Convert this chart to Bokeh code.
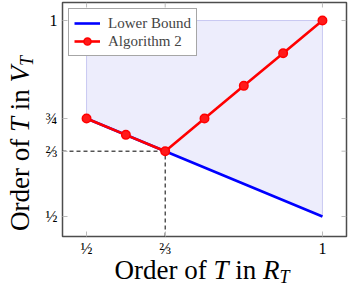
from bokeh.plotting import figure
from bokeh.models import LinearAxis, FixedTicker, Range1d, Legend, LegendItem, Div
from bokeh.layouts import column, row
from bokeh.embed import file_html
from bokeh.resources import INLINE

# ---- data ----
lb_x = [1/2, 2/3, 1]
lb_y = [3/4, 2/3, 1/2]

alg_x = [6/12, 7/12, 8/12, 9/12, 10/12, 11/12, 12/12]
alg_y = [3/4, 17/24, 2/3, 3/4, 5/6, 11/12, 1]

region_x = [1/2, 1/2, 1, 1]
region_y = [3/4, 1, 1, 1/2]

cross_x = 2/3
cross_y = 2/3

x_ticks = [1/2, 2/3, 1]
x_tick_labels = ["½", "⅔", "1"]
y_ticks = [1/2, 2/3, 3/4, 1]
y_tick_labels = ["½", "⅔", "¾", "1"]

x_lo, x_hi = 0.449, 1.051
y_lo, y_hi = 0.449, 1.046

SERIF = "Liberation Serif"
YDIV_W = 36
FIG_W, FIG_H = 312, 259
XDIV_H = 27
BL, BR, BT, BB = 26, 2, 2, 22
FRAME_W = FIG_W - BL - BR
FRAME_H = FIG_H - BT - BB
TICK_PX = 5

fig = figure(width=FIG_W, height=FIG_H, output_backend="svg", toolbar_location=None,
             x_range=Range1d(x_lo, x_hi), y_range=Range1d(y_lo, y_hi),
             min_border_left=BL, min_border_right=BR, min_border_top=BT, min_border_bottom=BB,
             x_axis_location=None, y_axis_location=None, margin=0)
fig.grid.visible = False
fig.outline_line_color = "#4d4d4d"
fig.outline_line_width = 1.5
fig.background_fill_color = "white"
fig.border_fill_color = "white"

def style_axis(ax, ticks, labels, standoff):
    ax.ticker = FixedTicker(ticks=ticks)
    ax.axis_line_color = None
    ax.major_tick_in = TICK_PX
    ax.major_tick_out = 0
    ax.major_tick_line_color = "#bbbbbb"
    ax.major_tick_line_width = 1
    ax.minor_tick_line_color = None
    ax.major_label_overrides = {t: l for t, l in zip(ticks, labels)}
    ax.major_label_text_font = SERIF
    ax.major_label_text_font_size = "16px"
    ax.major_label_text_color = "black"
    ax.major_label_standoff = standoff

bx = LinearAxis(); style_axis(bx, x_ticks, x_tick_labels, 3)
lx = LinearAxis(); style_axis(lx, y_ticks, y_tick_labels, 5)
fig.add_layout(bx, "below")
fig.add_layout(lx, "left")

# shaded region
fig.patch(region_x, region_y, fill_color="#ededfc", line_color="#c9c9f2", line_width=1)

# mirrored ticks on top and right edges
dx = TICK_PX * (x_hi - x_lo) / FRAME_W
dy = TICK_PX * (y_hi - y_lo) / FRAME_H
fig.segment(x0=x_ticks, y0=[y_hi] * len(x_ticks), x1=x_ticks, y1=[y_hi - dy] * len(x_ticks),
            line_color="#bbbbbb", line_width=1)
fig.segment(x0=[x_hi] * len(y_ticks), y0=y_ticks, x1=[x_hi - dx] * len(y_ticks), y1=y_ticks,
            line_color="#bbbbbb", line_width=1)

# dashed guide lines
fig.line([x_lo, cross_x], [cross_y, cross_y], line_color="black", line_dash="4 3", line_width=1)
fig.line([cross_x, cross_x], [y_lo, cross_y], line_color="black", line_dash="4 3", line_width=1)

r_lb = fig.line(lb_x, lb_y, line_color="#0000ff", line_width=2.6)
r_alg = fig.line(alg_x, alg_y, line_color="#ff0000", line_width=2.6)
r_alg_m = fig.scatter(alg_x, alg_y, size=8.5, fill_color="#ff1a1a", line_color="#ff0000", line_width=1.5)

legend = Legend(items=[LegendItem(label="Lower Bound", renderers=[r_lb]),
                       LegendItem(label="Algorithm 2", renderers=[r_alg, r_alg_m])],
                location="top_left")
legend.margin = 6
legend.padding = 5
legend.spacing = 0
legend.glyph_width = 26
legend.glyph_height = 18
legend.label_height = 18
legend.label_standoff = 8
legend.label_text_font = SERIF
legend.label_text_font_size = "15px"
legend.border_line_color = "#4d4d4d"
legend.border_line_width = 1.2
legend.background_fill_alpha = 1
fig.add_layout(legend, "center")

# axis titles as rich HTML text (italic symbols, subscripts)
FONT_CSS = f"font-family:'{SERIF}';font-size:27px;line-height:27px;color:black;white-space:nowrap;"
SUB_CSS = "font-size:18px;vertical-align:-4px;line-height:0;"

x_title = ("Order of <i>T</i> in <i>R</i>"
           f"<i style=\"{SUB_CSS}\">T</i>")
y_title = ("Order of <i>T</i> in <i>V</i>"
           f"<i style=\"{SUB_CSS}\">T</i>")

xdiv = Div(width=FIG_W + YDIV_W, height=XDIV_H, margin=0,
           text=f'<div style="position:absolute;left:102px;top:-2px;width:200px;'
                f'text-align:center;{FONT_CSS}">{x_title}</div>')
ydiv = Div(width=YDIV_W, height=FIG_H, margin=0,
           text=f'<div style="position:absolute;left:-100px;top:129.5px;width:240px;height:27px;'
                f'text-align:center;transform:rotate(-90deg);{FONT_CSS}">{y_title}</div>')

p = column(row(ydiv, fig, spacing=0), xdiv, spacing=0)

open("out.html", "w").write(file_html(p, INLINE))
